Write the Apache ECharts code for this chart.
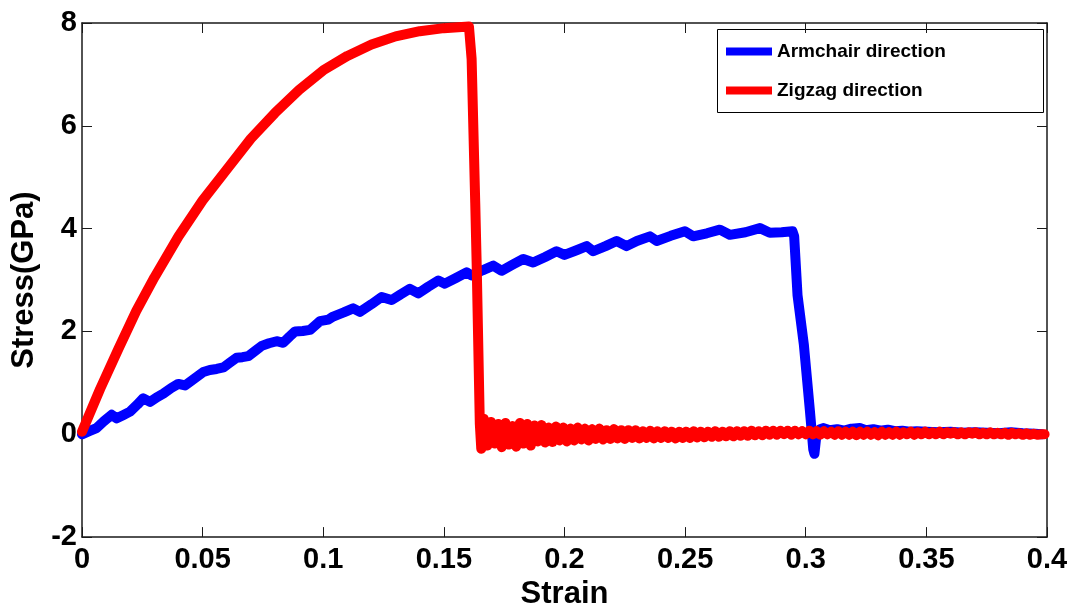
<!DOCTYPE html>
<html>
<head>
<meta charset="utf-8">
<script src="https://cdn.jsdelivr.net/npm/echarts@6/dist/echarts.min.js"></script>
<style>
html,body{margin:0;padding:0;background:#fff;}
#chart{width:1076px;height:615px;}
</style>
</head>
<body>
<div id="chart"></div>
<script>
// ---- data ----
var seriesNames = ['Armchair direction', 'Zigzag direction'];
var xTicks = [0, 0.05, 0.1, 0.15, 0.2, 0.25, 0.3, 0.35, 0.4];
var yTicks = [-2, 0, 2, 4, 6, 8];

var armchairStrain = [0.000,0.003,0.006,0.009,0.0123,0.0144,0.0170,0.0199,0.0230,0.0254,0.0282,0.0310,0.0337,0.0370,0.0399,0.0427,0.0465,0.0503,0.0530,0.0558,0.0586,0.0615,0.0641,0.0665,0.0689,0.0720,0.0745,0.0775,0.0807,0.0834,0.0860,0.0883,0.0915,0.0945,0.0986,0.1021,0.1041,0.1085,0.1124,0.1152,0.1200,0.1242,0.1283,0.1320,0.1359,0.1394,0.1435,0.1477,0.1504,0.1550,0.1594,0.1615,0.1660,0.1705,0.1739,0.1785,0.1829,0.1870,0.1920,0.1967,0.2000,0.2050,0.2092,0.2119,0.2170,0.2216,0.2257,0.2300,0.2354,0.2382,0.2440,0.2499,0.2533,0.2590,0.2644,0.2685,0.2750,0.2810,0.2851,0.2900,0.2945,0.2952,0.2966,0.2992,0.3017,0.3031,0.3036,0.3045,0.3060,0.3072,0.3100,0.3130,0.3160,0.3190,0.3224,0.3250,0.3280,0.3310,0.3340,0.3370,0.3400,0.3430,0.3460,0.3500,0.3550,0.3600,0.3650,0.3700,0.3750,0.3800,0.3850,0.3900,0.3950,0.3980];
var armchairStress = [0.00,0.06,0.12,0.25,0.38,0.31,0.37,0.44,0.58,0.70,0.63,0.72,0.79,0.90,0.98,0.95,1.08,1.21,1.25,1.27,1.30,1.40,1.49,1.50,1.52,1.63,1.72,1.77,1.81,1.78,1.90,2.00,2.01,2.03,2.20,2.23,2.29,2.37,2.45,2.38,2.53,2.67,2.61,2.72,2.83,2.74,2.87,2.99,2.93,3.04,3.15,3.09,3.19,3.28,3.18,3.30,3.41,3.34,3.45,3.56,3.49,3.58,3.66,3.56,3.66,3.76,3.66,3.76,3.85,3.76,3.86,3.95,3.85,3.91,3.98,3.88,3.93,4.01,3.92,3.93,3.95,3.85,2.70,1.75,0.47,-0.29,-0.38,0.02,0.10,0.12,0.08,0.10,0.07,0.11,0.12,0.08,0.10,0.07,0.09,0.06,0.07,0.05,0.06,0.05,0.04,0.05,0.03,0.04,0.03,0.02,0.04,0.02,0.01,0.00];

var zigzagStrain = [0,0.0075,0.015,0.0225,0.030,0.040,0.050,0.060,0.070,0.080,0.090,0.100,0.110,0.120,0.130,0.140,0.150,0.1604,0.1615,0.1630,0.1636,0.1649,0.1655,
0.1665,0.1680,0.1695,0.1710,0.1725,0.1740,0.1755,0.1770,0.1785,0.1800,
0.1815,0.1830,0.1845,0.1860,0.1875,0.1890,0.1905,0.1920,0.1935,0.1950,
0.1965,0.1980,0.1995,0.2010,0.2025,0.2040,0.2055,0.2070,0.2085,0.2100,
0.2115,0.2130,0.2145,0.2160,0.2175,0.2190,0.2205,0.2220,0.2235,0.2250,
0.2265,0.2280,0.2295,0.2310,0.2325,0.2340,0.2355,0.2370,0.2385,0.2400,
0.2415,0.2430,0.2445,0.2460,0.2475,0.2490,0.2505,0.2520,0.2535,0.2550,
0.2565,0.2580,0.2595,0.2610,0.2625,0.2640,0.2655,0.2670,0.2685,0.2700,
0.2715,0.2730,0.2745,0.2760,0.2775,0.2790,0.2805,0.2820,0.2835,0.2850,
0.2865,0.2880,0.2895,0.2910,0.2925,0.2940,0.2955,0.2970,0.2985,0.3000,
0.3015,0.3030,0.3045,0.3060,0.3075,0.3090,0.3105,0.3120,0.3135,0.3150,
0.3165,0.3180,0.3195,0.3210,0.3225,0.3240,0.3255,0.3270,0.3285,0.3300,
0.3315,0.3330,0.3345,0.3360,0.3375,0.3390,0.3405,0.3420,0.3435,0.3450,
0.3465,0.3480,0.3495,0.3510,0.3525,0.3540,0.3555,0.3570,0.3585,0.3600,
0.3615,0.3630,0.3645,0.3660,0.3675,0.3690,0.3705,0.3720,0.3735,0.3750,
0.3765,0.3780,0.3795,0.3810,0.3825,0.3840,0.3855,0.3870,0.3885,0.3900,
0.3915,0.3930,0.3945,0.3960,0.3975,0.3990];
var zigzagStress = [0.05,0.88,1.65,2.40,3.05,3.85,4.55,5.15,5.75,6.25,6.70,7.08,7.36,7.58,7.74,7.84,7.90,7.93,7.30,4.50,3.30,0.20,-0.28,
0.30,-0.22,0.24,-0.18,0.20,-0.25,0.22,-0.20,0.16,-0.24,
0.22,-0.18,0.20,-0.22,0.17,-0.14,0.18,-0.16,0.13,-0.15,
0.15,-0.12,0.13,-0.14,0.11,-0.12,0.13,-0.10,0.11,-0.12,
0.10,-0.09,0.11,-0.10,0.08,-0.09,0.10,-0.08,0.08,-0.09,
0.08,-0.07,0.08,-0.08,0.06,-0.07,0.07,-0.08,0.06,-0.07,
0.06,-0.07,0.05,-0.08,0.05,-0.07,0.05,-0.07,0.06,-0.06,
0.05,-0.06,0.05,-0.05,0.06,-0.05,0.05,-0.04,0.06,-0.04,
0.06,-0.03,0.06,-0.03,0.07,-0.02,0.06,-0.02,0.07,-0.01,
0.07,-0.01,0.07,0.00,0.07,-0.01,0.07,0.00,0.06,0.00,
0.07,0.00,0.06,-0.01,0.06,0.00,0.05,-0.01,0.06,-0.01,
0.05,-0.01,0.05,-0.02,0.05,-0.01,0.05,-0.01,0.04,-0.02,
0.05,-0.01,0.04,-0.01,0.05,-0.01,0.04,0.00,0.05,-0.01,
0.04,0.00,0.05,0.00,0.04,0.00,0.05,0.00,0.04,0.01,
0.04,0.00,0.04,0.00,0.04,0.01,0.04,0.00,0.03,0.00,
0.04,0.00,0.03,0.00,0.03,-0.01,0.03,0.00,0.02,-0.01,
0.02,-0.01,0.01,-0.01,0.00,0.00];

function zip(a, b) { return a.map(function (v, i) { return [v, b[i]]; }); }

var FONT = '"Liberation Sans", Arial, Helvetica, sans-serif';
var chart = echarts.init(document.getElementById('chart'), null, {renderer: 'canvas'});

var axisLine = {show: true, onZero: false, lineStyle: {color: '#1a1a1a', width: 1.5}};
var tick = {show: true, inside: true, length: 10, lineStyle: {color: '#1a1a1a', width: 1}};
var xMin = xTicks[0], xMax = xTicks[xTicks.length - 1], xInt = xTicks[1] - xTicks[0];
var yMin = yTicks[0], yMax = yTicks[yTicks.length - 1], yInt = yTicks[1] - yTicks[0];

chart.setOption({
  animation: false,
  backgroundColor: '#ffffff',
  grid: {left: 82, right: 29, top: 23, bottom: 69, containLabel: false},
  legend: {
    data: seriesNames,
    orient: 'vertical',
    left: 721, top: 37,
    icon: 'rect',
    itemWidth: 46, itemHeight: 8,
    itemGap: 20,
    textStyle: {fontFamily: FONT, fontWeight: 'bold', fontSize: 19, color: '#000'}
  },
  graphic: [{
    type: 'rect', left: 717, top: 29, z: 0,
    shape: {width: 326, height: 83},
    style: {fill: '#fff', stroke: '#000', lineWidth: 1}
  }],
  xAxis: [{
    type: 'value', min: xMin, max: xMax, interval: xInt,
    name: 'Strain', nameLocation: 'middle', nameGap: 32,
    nameTextStyle: {fontFamily: FONT, fontWeight: 'bold', fontSize: 31, color: '#000'},
    axisLine: axisLine, axisTick: tick, splitLine: {show: false},
    axisLabel: {fontFamily: FONT, fontWeight: 'bold', fontSize: 29, color: '#000', margin: 8}
  }, {
    type: 'value', position: 'top', min: xMin, max: xMax, interval: xInt,
    axisLine: axisLine, axisTick: tick, splitLine: {show: false}, axisLabel: {show: false}
  }],
  yAxis: [{
    type: 'value', min: yMin, max: yMax, interval: yInt,
    name: 'Stress(GPa)', nameLocation: 'middle', nameGap: 38,
    nameTextStyle: {fontFamily: FONT, fontWeight: 'bold', fontSize: 31, color: '#000'},
    axisLine: axisLine, axisTick: tick, splitLine: {show: false},
    axisLabel: {fontFamily: FONT, fontWeight: 'bold', fontSize: 29, color: '#000', margin: 5}
  }, {
    type: 'value', position: 'right', min: yMin, max: yMax, interval: yInt,
    axisLine: axisLine, axisTick: tick, splitLine: {show: false}, axisLabel: {show: false}
  }],
  series: [{
    name: seriesNames[0], type: 'line', data: zip(armchairStrain, armchairStress),
    showSymbol: false, symbol: 'none', color: '#0000ff',
    lineStyle: {width: 10, color: '#0000ff', cap: 'round', join: 'round'}, z: 2
  }, {
    name: seriesNames[1], type: 'line', data: zip(zigzagStrain, zigzagStress),
    showSymbol: false, symbol: 'none', color: '#ff0000',
    lineStyle: {width: 10, color: '#ff0000', cap: 'round', join: 'round'}, z: 3
  }]
});
</script>
</body>
</html>
